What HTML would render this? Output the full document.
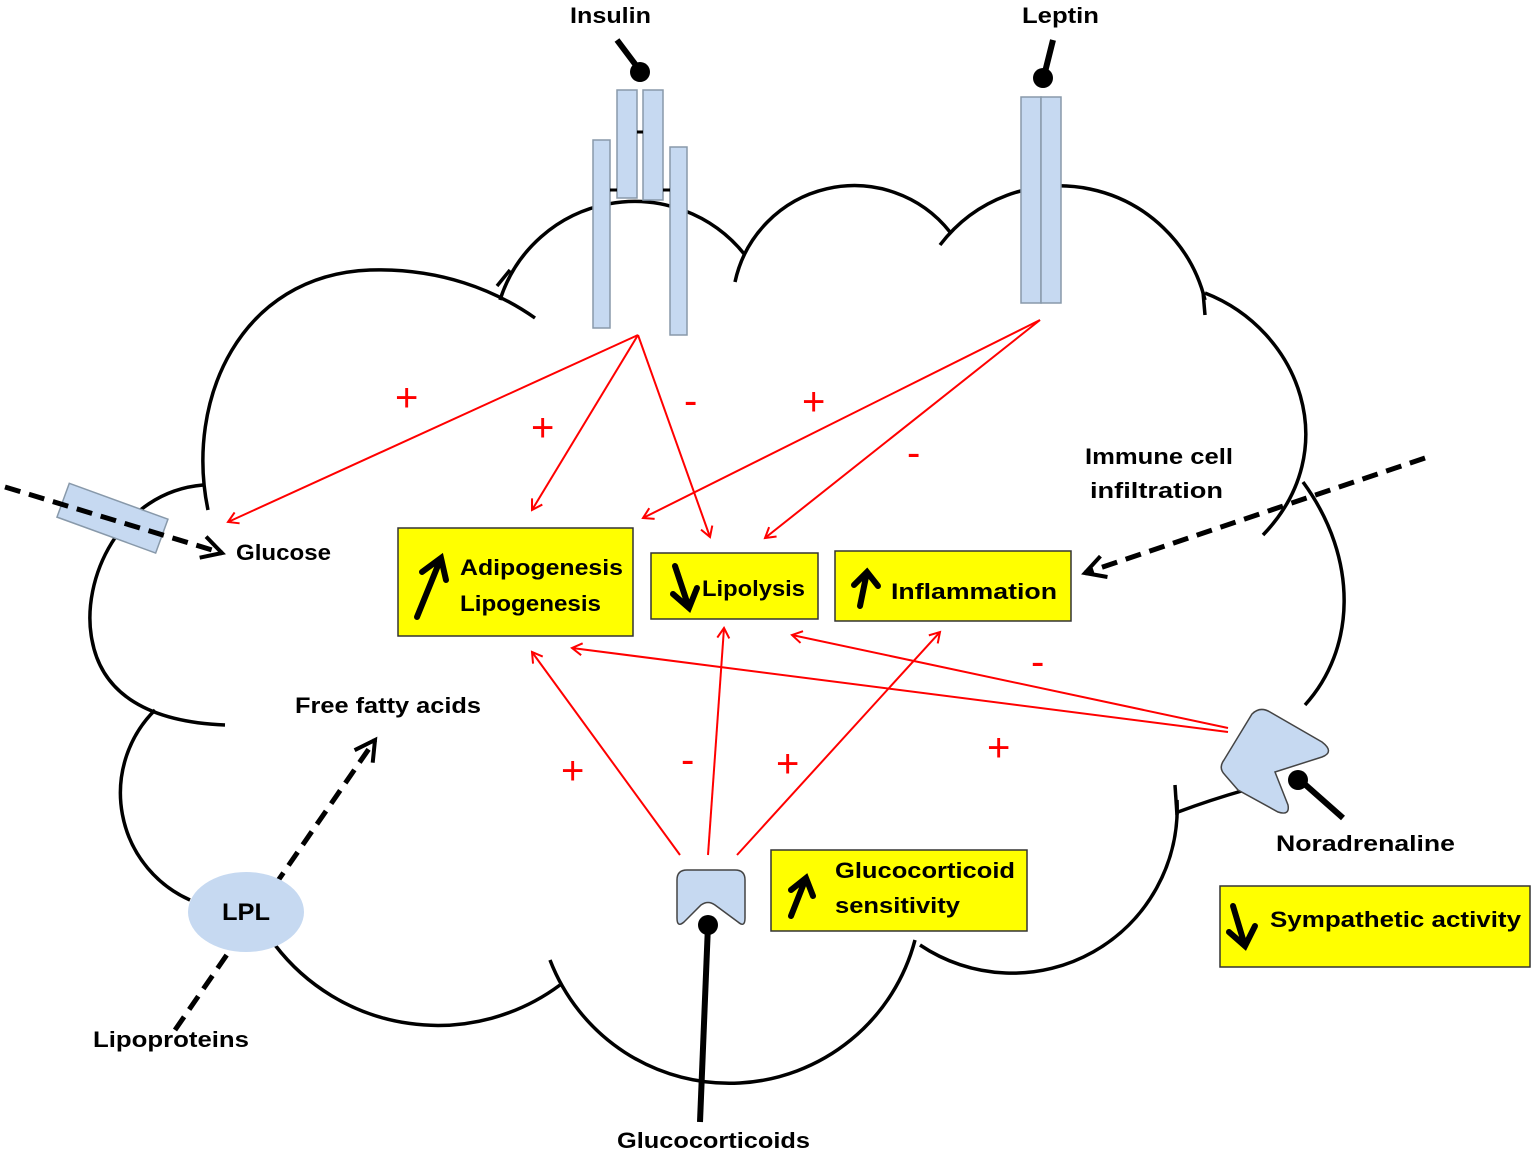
<!DOCTYPE html>
<html><head><meta charset="utf-8"><style>
html,body{margin:0;padding:0;background:#fff}
svg{display:block}
text{font-family:"Liberation Sans",sans-serif;font-weight:bold}
text.pm{font-weight:normal}
</style></head><body>
<svg width="1535" height="1153" viewBox="0 0 1535 1153" xmlns="http://www.w3.org/2000/svg">
<defs>
<marker id="ar" markerWidth="14" markerHeight="14" refX="11" refY="7" orient="auto" markerUnits="userSpaceOnUse"><path d="M1,1 L11,7 L1,13" fill="none" stroke="#f00" stroke-width="2"/></marker>
<marker id="ab" markerWidth="30" markerHeight="30" refX="24" refY="15" orient="auto" markerUnits="userSpaceOnUse"><path d="M4,4 L24,15 L4,26" fill="none" stroke="#000" stroke-width="4"/></marker>
</defs>
<g fill="none" stroke="#000" stroke-width="3.5">
<path d="M208,510 C185,400 240,275 370,270 C440,268 495,290 535,318"/>
<path d="M497,286 L510,270"/>
<path d="M500,300 A141,141 0 0 1 745,255"/>
<path d="M735,282 A122,122 0 0 1 950,232"/>
<path d="M940,245 A150,150 0 0 1 1205,300"/>
<path d="M1203,292 L1205,315"/>
<path d="M1205,293 C1300,330 1345,450 1263,535"/>
<path d="M1303,482 C1360,560 1355,650 1305,705"/>
<path d="M1245,790 Q1210,800 1178,812"/>
<path d="M1175,785 L1177,815"/>
<path d="M1177,800 A165,165 0 0 1 920,945"/>
<path d="M550,960 A192,192 0 0 0 915,940"/>
<path d="M275,945 A205,205 0 0 0 560,985"/>
<path d="M155,710 A117,117 0 0 0 190,900"/>
<path d="M203,485 C120,492 80,580 92,640 C102,695 150,722 225,725"/>
</g>
<rect x="60" y="500" width="105" height="36" fill="#c6d9f1" stroke="#8899aa" stroke-width="1.5" transform="rotate(20 112 518)"/>
<g stroke="#f00" stroke-width="2" fill="none" marker-end="url(#ar)">
<line x1="638" y1="335" x2="228" y2="522"/>
<line x1="638" y1="335" x2="532" y2="510"/>
<line x1="638" y1="335" x2="710" y2="537"/>
<line x1="1040" y1="320" x2="643" y2="518"/>
<line x1="1040" y1="320" x2="765" y2="538"/>
<line x1="680" y1="855" x2="532" y2="652"/>
<line x1="708" y1="855" x2="724" y2="628"/>
<line x1="737" y1="855" x2="940" y2="632"/>
<line x1="1228" y1="732" x2="572" y2="648"/>
<line x1="1228" y1="728" x2="792" y2="635"/>
</g>
<g fill="#f00" font-size="40">
<text class="pm" x="395" y="411">+</text>
<text class="pm" x="531" y="441">+</text>
<text class="pm" x="684" y="414">-</text>
<text class="pm" x="802" y="415">+</text>
<text class="pm" x="907" y="466">-</text>
<text class="pm" x="561" y="784">+</text>
<text class="pm" x="681" y="773">-</text>
<text class="pm" x="776" y="777">+</text>
<text class="pm" x="987" y="761">+</text>
<text class="pm" x="1031" y="675">-</text>
</g>
<g stroke="#000" stroke-width="5" stroke-dasharray="16,9" fill="none" marker-end="url(#ab)">
<line x1="5" y1="487" x2="222" y2="553"/>
<line x1="1425" y1="458" x2="1085" y2="573"/>
<line x1="175" y1="1030" x2="375" y2="740"/>
</g>
<g fill="#c6d9f1" stroke="#8899aa" stroke-width="1.5">
<rect x="617" y="90" width="20" height="108"/>
<rect x="643" y="90" width="20" height="110"/>
<rect x="593" y="140" width="17" height="188"/>
<rect x="670" y="147" width="17" height="188"/>
<rect x="1021" y="97" width="20" height="206"/>
<rect x="1041" y="97" width="20" height="206"/>
</g>
<g stroke="#000" stroke-width="3"><line x1="637" y1="132" x2="643" y2="132"/><line x1="610" y1="190" x2="617" y2="190"/><line x1="663" y1="190" x2="670" y2="190"/></g>
<ellipse cx="246" cy="912" rx="58" ry="40" fill="#c6d9f1"/>
<path d="M677,880 Q677,870 687,870 L735,870 Q745,870 745,880 L745,918 Q745,928 738,922 L715,905 Q708,900 701,905 L684,922 Q677,928 677,918 Z" fill="#c6d9f1" stroke="#444" stroke-width="1.5"/>
<path d="M1225,775 Q1218,768 1224,760 L1252,714 Q1260,706 1270,712 L1322,742 Q1335,752 1322,757 L1275,772 L1288,805 Q1290,816 1278,812 L1238,790 Z" fill="#c6d9f1" stroke="#444" stroke-width="1.5"/>
<g stroke="#000" stroke-width="6" fill="#000">
<line x1="617" y1="40" x2="638" y2="68"/><circle cx="640" cy="72" r="10" stroke="none"/>
<line x1="1053" y1="40" x2="1045" y2="72"/><circle cx="1043" cy="78" r="10" stroke="none"/>
<line x1="708" y1="925" x2="700" y2="1122"/><circle cx="708" cy="925" r="10" stroke="none"/>
<line x1="1300" y1="780" x2="1343" y2="818"/><circle cx="1298" cy="780" r="10" stroke="none"/>
</g>
<g fill="#ffff00" stroke="#333" stroke-width="1.5">
<rect x="398" y="528" width="235" height="108"/>
<rect x="651" y="553" width="167" height="66"/>
<rect x="835" y="551" width="236" height="70"/>
<rect x="771" y="850" width="256" height="81"/>
<rect x="1220" y="886" width="310" height="81"/>
</g>
<g stroke="#000" stroke-width="6" fill="none" stroke-linecap="round">
<path d="M417,617 L441,558 M422,572 L441,558 L446,580"/>
<path d="M675,566 L689,608 M673,594 L689,608 L697,588"/>
<path d="M860,606 L867,572 M854,585 L867,572 L878,586"/>
<path d="M791,916 L806,878 M791,890 L806,878 L813,896"/>
<path d="M1233,906 L1245,946 M1229,932 L1245,946 L1255,926"/>
</g>
<g font-size="22" fill="#000">
<text x="460" y="575" textLength="163" lengthAdjust="spacingAndGlyphs">Adipogenesis</text>
<text x="460" y="611" textLength="141" lengthAdjust="spacingAndGlyphs">Lipogenesis</text>
<text x="702" y="596" textLength="103" lengthAdjust="spacingAndGlyphs">Lipolysis</text>
<text x="891" y="599" textLength="166" lengthAdjust="spacingAndGlyphs">Inflammation</text>
<text x="835" y="878" textLength="180" lengthAdjust="spacingAndGlyphs">Glucocorticoid</text>
<text x="835" y="913" textLength="125" lengthAdjust="spacingAndGlyphs">sensitivity</text>
<text x="1270" y="927" textLength="251" lengthAdjust="spacingAndGlyphs">Sympathetic activity</text>
<text x="570" y="23" textLength="81" lengthAdjust="spacingAndGlyphs">Insulin</text>
<text x="1022" y="23" textLength="77" lengthAdjust="spacingAndGlyphs">Leptin</text>
<text x="1085" y="464" textLength="148" lengthAdjust="spacingAndGlyphs">Immune cell</text>
<text x="1090" y="498" textLength="133" lengthAdjust="spacingAndGlyphs">infiltration</text>
<text x="236" y="560" textLength="95" lengthAdjust="spacingAndGlyphs">Glucose</text>
<text x="295" y="713" textLength="186" lengthAdjust="spacingAndGlyphs">Free fatty acids</text>
<text x="222" y="920" font-size="24" textLength="48" lengthAdjust="spacingAndGlyphs">LPL</text>
<text x="93" y="1047" textLength="156" lengthAdjust="spacingAndGlyphs">Lipoproteins</text>
<text x="617" y="1148" textLength="193" lengthAdjust="spacingAndGlyphs">Glucocorticoids</text>
<text x="1276" y="851" textLength="179" lengthAdjust="spacingAndGlyphs">Noradrenaline</text>
</g>
</svg>
</body></html>
